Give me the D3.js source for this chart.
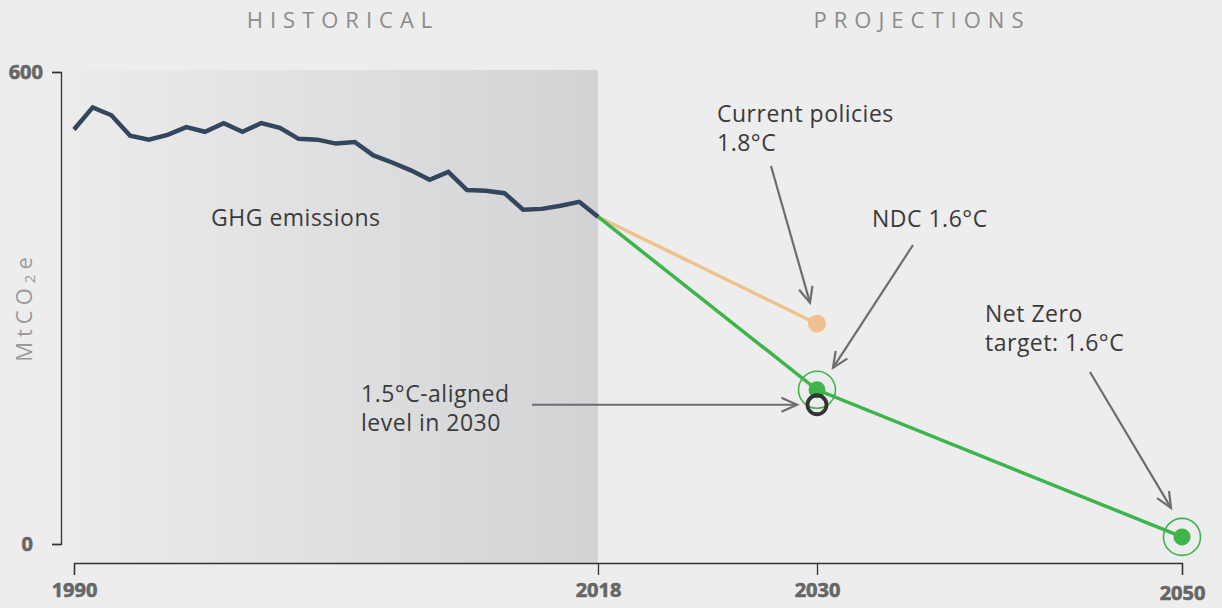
<!DOCTYPE html>
<html>
<head>
<meta charset="utf-8">
<script src="https://cdn.jsdelivr.net/npm/d3@7"></script>
<style>
  html, body { margin: 0; padding: 0; background: #ededed; }
  svg { display: block; font-family: "Open Sans", Lato, sans-serif; }
</style>
</head>
<body>
<div id="chart"></div>
<script>
'use strict';

// historical emissions, MtCO2e
const histYears = d3.range(1990, 2019);
const histValues = [527, 555, 545, 519, 514, 520, 530, 524, 535, 524, 535, 529, 515, 514,
    509, 511, 494, 485, 475, 463, 473, 450, 449, 446, 425, 426, 430, 435, 416];

const xTicks = [1990, 2018, 2030, 2050];
const yTicks = [0, 600];

const currentPolicies = [[2018, 416], [2030, 280]];
const ndcPath = [[2018, 416], [2030, 196], [2050, 9]];
const alignedLevel = [2030, 177];

const width = 1222,
    height = 608,
    colors = {
        hist: '#34465e',
        green: '#3db54a',
        orange: '#f0c18c',
        arrow: '#6c6d70',
        text: '#3a3a3a',
    };

const svg = d3.select('#chart')
    .append('svg')
    .attr('width', width)
    .attr('height', height);

const x = d3.scaleLinear().domain([1990, 2018, 2050]).range([74, 598, 1182]),
    y = d3.scaleLinear().domain([0, 600]).range([544, 72]);

// shaded historical area
const grad = svg.append('defs').append('linearGradient')
    .attr('id', 'histGrad')
    .attr('x1', '0%').attr('x2', '100%');
grad.append('stop').attr('offset', '0%').attr('stop-color', '#ececec');
grad.append('stop').attr('offset', '100%').attr('stop-color', '#d2d3d5');

svg.append('rect')
    .attr('x', 62)
    .attr('y', 70)
    .attr('width', x(2018) - 62)
    .attr('height', 563 - 70)
    .attr('fill', 'url(#histGrad)');

// section titles
svg.selectAll('.section')
    .data([['HISTORICAL', 343], ['PROJECTIONS', 922]])
    .enter().append('text')
    .attr('x', d => d[1])
    .attr('y', 28)
    .attr('text-anchor', 'middle')
    .style('font-size', '22px')
    .style('letter-spacing', '7px')
    .style('fill', '#8c8c8c')
    .text(d => d[0]);

// axes
const tickFont = sel => sel
    .style('font-family', '"Open Sans", sans-serif')
    .style('font-size', '20px')
    .style('font-weight', '700')
    .style('fill', '#666')
    .style('stroke', '#666')
    .style('stroke-width', '0.6px');

const yAxis = svg.append('g')
    .attr('transform', 'translate(61,0)')
    .call(d3.axisLeft(y).tickValues(yTicks).tickSize(9).tickPadding(9));
yAxis.selectAll('text')
    .call(tickFont)
    .attr('dx', d => d === 0 ? -10 : 0);

const xAxis = svg.append('g')
    .attr('transform', 'translate(0,563)')
    .call(d3.axisBottom(x).tickValues(xTicks).tickFormat(d3.format('d')).tickSize(12).tickPadding(8));
xAxis.selectAll('text')
    .call(tickFont)
    .attr('dy', d => d === 2050 ? '0.84em' : '0.7em');

svg.selectAll('.domain, .tick line')
    .attr('stroke', '#333')
    .attr('stroke-width', 1.3);

// y label
const ylab = svg.append('text')
    .attr('transform', 'translate(32,307) rotate(-90)')
    .attr('text-anchor', 'middle')
    .style('font-size', '22px')
    .style('letter-spacing', '5px')
    .style('fill', '#9a9a9a');
ylab.append('tspan').text('MtCO');
ylab.append('tspan').attr('font-size', '15px').attr('dy', 3).text('2');
ylab.append('tspan').attr('dy', -3).text('e');

// lines
const line = d3.line().x(d => x(d[0])).y(d => y(d[1]));

svg.append('path')
    .datum(currentPolicies)
    .attr('d', line)
    .attr('fill', 'none')
    .attr('stroke', colors.orange)
    .attr('stroke-width', 3.5);

svg.append('path')
    .datum(ndcPath)
    .attr('d', line)
    .attr('fill', 'none')
    .attr('stroke', colors.green)
    .attr('stroke-width', 3.5);

svg.append('path')
    .datum(histYears.map((yr, i) => [yr, histValues[i]]))
    .attr('d', line)
    .attr('fill', 'none')
    .attr('stroke', colors.hist)
    .attr('stroke-width', 4.5)
    .attr('stroke-linejoin', 'miter');

// markers
svg.append('circle')
    .attr('cx', x(currentPolicies[1][0]))
    .attr('cy', y(currentPolicies[1][1]))
    .attr('r', 9)
    .attr('fill', colors.orange);

const targets = [ndcPath[1], ndcPath[2]];
svg.selectAll('.ring')
    .data(targets)
    .enter().append('circle')
    .attr('cx', d => x(d[0]))
    .attr('cy', d => y(d[1]))
    .attr('r', 18.5)
    .attr('fill', 'none')
    .attr('stroke', colors.green)
    .attr('stroke-width', 1.6);
svg.selectAll('.dot')
    .data(targets)
    .enter().append('circle')
    .attr('cx', d => x(d[0]))
    .attr('cy', d => y(d[1]))
    .attr('r', 8.5)
    .attr('fill', colors.green);

svg.append('circle')
    .attr('cx', x(alignedLevel[0]))
    .attr('cy', y(alignedLevel[1]))
    .attr('r', 9.5)
    .attr('fill', 'none')
    .attr('stroke', '#333')
    .attr('stroke-width', 3.8);

// annotations
function arrow(x1, y1, x2, y2) {
    const a = Math.atan2(y2 - y1, x2 - x1),
        len = 17,
        spread = 0.42;
    const g = svg.append('g')
        .attr('stroke', colors.arrow)
        .attr('stroke-width', 2.2)
        .attr('fill', 'none');
    g.append('line').attr('x1', x1).attr('y1', y1).attr('x2', x2).attr('y2', y2);
    g.append('path')
        .attr('stroke-linejoin', 'miter')
        .attr('d', 'M' + (x2 - len * Math.cos(a - spread)) + ',' + (y2 - len * Math.sin(a - spread)) +
            'L' + x2 + ',' + y2 +
            'L' + (x2 - len * Math.cos(a + spread)) + ',' + (y2 - len * Math.sin(a + spread)));
}

function label(lines, lx, ly) {
    const t = svg.append('text')
        .attr('x', lx)
        .attr('y', ly)
        .style('font-size', '23px')
        .style('letter-spacing', '0.5px')
        .style('fill', colors.text);
    lines.forEach((s, i) => t.append('tspan').attr('x', lx).attr('dy', i ? 29 : 0).text(s));
}

label(['GHG emissions'], 211, 226);

const cpX = x(2030), cpY = y(currentPolicies[1][1]);
label(['Current policies', '1.8°C'], 717, 122);
arrow(771, 166, cpX - 7, cpY - 21);

const ndcX = x(2030), ndcY = y(ndcPath[1][1]);
label(['NDC 1.6°C'], 872, 227);
arrow(913, 245, ndcX + 16, ndcY - 22);

const alX = x(alignedLevel[0]), alY = y(alignedLevel[1]);
label(['1.5°C-aligned', 'level in 2030'], 361, 402);
arrow(532, alY, alX - 20, alY);

const nzX = x(2050), nzY = y(ndcPath[2][1]);
label(['Net Zero', 'target: 1.6°C'], 985, 322);
arrow(1090, 372, nzX - 11, nzY - 29);
</script>
</body>
</html>
